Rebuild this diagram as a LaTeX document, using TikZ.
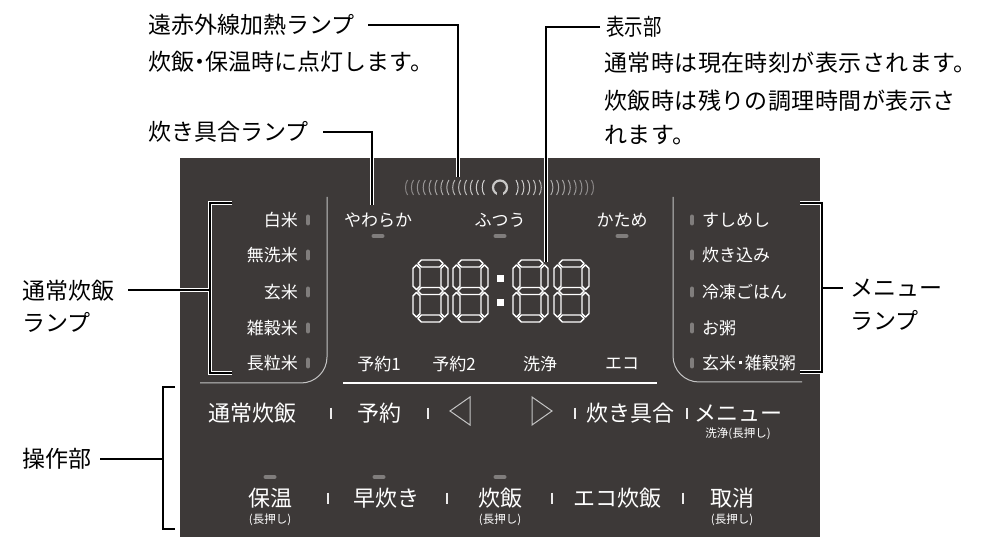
\documentclass[tikz,border=0pt]{standalone}
\usepackage{fontspec}
\setmainfont{Noto Sans CJK JP}
\definecolor{panel}{RGB}{61,57,56}
\definecolor{lamp}{RGB}{128,125,124}
\definecolor{framegray}{RGB}{196,196,196}
\newcommand\hsegm[3]{\draw[seg] (#1,#3) -- (#1+3.5,#3-3.5) -- (#2-3.5,#3-3.5) -- (#2,#3) -- (#2-3.5,#3+3.5) -- (#1+3.5,#3+3.5) -- cycle;}
\newcommand\vsegm[3]{\draw[seg] (#3,#1) -- (#3+3.5,#1+3.5) -- (#3+3.5,#2-3.5) -- (#3,#2) -- (#3-3.5,#2-3.5) -- (#3-3.5,#1+3.5) -- cycle;}
\newcommand\segdigit[2]{%
  \pgfmathsetmacro\sgXl{#1+3.5}\pgfmathsetmacro\sgXr{#1+35-3.5}%
  \pgfmathsetmacro\sgYt{#2+3.5}\pgfmathsetmacro\sgYm{#2+31}\pgfmathsetmacro\sgYb{#2+62-3.5}%
  \hsegm{\sgXl+1.4}{\sgXr-1.4}{\sgYt}
  \hsegm{\sgXl+1.4}{\sgXr-1.4}{\sgYm}
  \hsegm{\sgXl+1.4}{\sgXr-1.4}{\sgYb}
  \vsegm{\sgYt+1.4}{\sgYm-1.4}{\sgXl}
  \vsegm{\sgYm+1.4}{\sgYb-1.4}{\sgXl}
  \vsegm{\sgYt+1.4}{\sgYm-1.4}{\sgXr}
  \vsegm{\sgYm+1.4}{\sgYb-1.4}{\sgXr}
}
\newcommand\vpill[2]{\draw[lamp, line width=4pt, line cap=round] (#1,#2-3.5) -- (#1,#2+3.5);}
\newcommand\hpill[2]{\draw[lamp, line width=4pt, line cap=round] (#1-4.5,#2) -- (#1+4.5,#2);}
\newcommand\sepbar[2]{\draw[white!90!panel, line width=1.6pt] (#1,#2-5.5) -- (#1,#2+5.5);}
\newcommand\ndot{\kern-0.25em・\kern-0.25em}
\newcommand\sqdot{\hspace{2.5pt}\rule[0.3em]{3.6pt}{3.6pt}\hspace{2.5pt}}
\begin{document}
\begin{tikzpicture}[x=1pt,y=-1pt,
  lbl/.style={font=\fontsize{23}{27}\selectfont, inner sep=0, anchor=west},
  rdesc/.style={font=\fontsize{23}{27}\selectfont\addfontfeatures{LetterSpace=2}, inner sep=0, anchor=west},
  plbl/.style={font=\fontsize{17}{20}\selectfont, text=white, inner sep=0},
  ctl/.style={font=\fontsize{22}{26}\selectfont, text=white, inner sep=0},
  sublbl/.style={font=\fontsize{11.5}{14}\selectfont, text=white, inner sep=0},
  callout/.style={line width=1.8pt, black, preaction={draw=white, line width=4.6pt}},
  plainline/.style={line width=1.8pt, black},
  seg/.style={draw=white, line width=1.4pt, line join=round},
  frame/.style={draw=framegray, line width=1pt}]
\useasboundingbox (0,0) rectangle (983,537);
\fill[white] (0,0) rectangle (983,537);
% panel
\fill[panel] (180,158) rectangle (820,537);

% frames
\draw[frame, rounded corners=26pt] (327,197) -- (327,383) -- (200,383);
\draw[frame, rounded corners=26pt] (673,197) -- (673,382) -- (802,382);
\draw[white, line width=1.8pt] (343,383) -- (657,383);

% heating lamp arcs
\foreach \i in {0,...,13} {
  \pgfmathsetmacro\xx{405+\i*5.9}
  \pgfmathtruncatemacro\cc{38+\i*3}
  \draw[line width=1pt, color=white!\cc!panel] (\xx+2.6,180) .. controls (\xx-0.2,184) and (\xx-0.2,191) .. (\xx+2.6,195);
  \pgfmathsetmacro\xy{516+\i*5.8}
  \pgfmathtruncatemacro\cd{77-\i*3}
  \draw[line width=1pt, color=white!\cd!panel] (\xy,180) .. controls (\xy+2.8,184) and (\xy+2.8,191) .. (\xy,195);
}
\draw[line width=2.2pt, color=white!72!panel] (500,187.5) circle[radius=7pt];
\fill[panel] (497,192) rectangle (503,197);

% top lamp labels
\node[plbl] (yawa) at (378,220) {やわらか};
\node[plbl] (futsu) at (500,220) {ふつう};
\node[plbl] (katame) at (622,220) {かため};
\hpill{378}{236}\hpill{500}{236}\hpill{622}{236}

% display
\segdigit{413}{260}
\segdigit{453}{260}
\segdigit{513}{260}
\segdigit{554}{260}
\fill[white] (496.5,275.5) rectangle (503.5,282.5);
\fill[white] (496.5,299.5) rectangle (503.5,306.5);

% bottom display labels
\node[plbl] (yoy1) at (379,364) {予約1};
\node[plbl] (yoy2) at (454,364) {予約2};
\node[plbl] (senj) at (540,364) {洗浄};
\node[plbl] (eco) at (622,364) {エコ};

% left lamps
\node[plbl, anchor=east] (hak) at (298,220) {白米};
\node[plbl, anchor=east] (mus) at (298,255) {無洗米};
\node[plbl, anchor=east] (gen) at (298,292) {玄米};
\node[plbl, anchor=east] (zak) at (298,328) {雑穀米};
\node[plbl, anchor=east] (cho) at (298,363) {長粒米};
\foreach \y in {220,255,292,328,363} {\vpill{308}{\y}}

% right lamps
\node[plbl, anchor=west] (sus) at (702,220) {すしめし};
\node[plbl, anchor=west] (tak) at (702,255) {炊き込み};
\node[plbl, anchor=west] (rei) at (702,292) {冷凍ごはん};
\node[plbl, anchor=west] (oka) at (702,328) {お粥};
\node[plbl, anchor=west] (gzk) at (702,363) {玄米\sqdot 雑穀粥};
\foreach \y in {220,255,292,328,363} {\vpill{692}{\y}}

% control row 1
\node[ctl] (tsujo) at (252,413) {通常炊飯};
\sepbar{331}{413}
\node[ctl] (yoyaku) at (379,413) {予約};
\sepbar{428}{413}
\draw[framegray, line width=1pt, line join=miter] (470,397) -- (450,411) -- (470,425) -- cycle;
\draw[framegray, line width=1pt, line join=miter] (532,397) -- (552,411) -- (532,425) -- cycle;
\sepbar{575}{413}
\node[ctl] (kagenb) at (630,413) {炊き具合};
\sepbar{687}{413}
\node[ctl] (menu) at (738,413) {メニュー};
\node[sublbl] (menus) at (738,434) {洗浄(長押し)};

% control row 2
\hpill{270}{477}\hpill{379}{477}\hpill{500}{477}
\node[ctl] (hoon) at (270,498) {保温};
\node[sublbl] (hoons) at (270,520) {(長押し)};
\sepbar{328}{498}
\node[ctl] (haya) at (386,498) {早炊き};
\sepbar{447}{498}
\node[ctl] (suih) at (500,498) {炊飯};
\node[sublbl] (suihs) at (500,520) {(長押し)};
\sepbar{552}{498}
\node[ctl] (ecos) at (617,498) {エコ炊飯};
\sepbar{683}{498}
\node[ctl] (tori) at (732,498) {取消};
\node[sublbl] (toris) at (732,520) {(長押し)};

% outside labels
\node[lbl] (heat) at (148,25) {遠赤外線加熱ランプ};
\node[lbl] (heatd) at (148,62) {炊飯\ndot 保温時に点灯します。};
\node[lbl] (kagen) at (148,132) {炊き具合ランプ};
\node[lbl] (disp) at (606,27) {\scalebox{0.8}[1]{表示部}};
\node[rdesc] (dispd1) at (604,63) {通常時は現在時刻が表示されます。};
\node[rdesc] (dispd2) at (604,101) {炊飯時は残りの調理時間が表示さ};
\node[rdesc] (dispd3) at (604,135) {れます。};
\node[lbl] (nlamp1) at (22,291) {通常炊飯};
\node[lbl] (nlamp2) at (22,322) {ランプ};
\node[lbl] (mlamp1) at (850,288) {メニュー};
\node[lbl] (mlamp2) at (850,320) {ランプ};
\node[lbl] (sosa) at (22,459) {操作部};

% callouts
\coordinate (heatS) at (368,25);  \coordinate (heatE) at (458,177);
\coordinate (kagS) at (323,132);  \coordinate (kagE) at (372,205);
\coordinate (dispS) at (600,27);  \coordinate (dispE) at (546,262);
\draw[callout] (heatS) -| (heatE);
\draw[callout] (kagS) -| (kagE);
\draw[callout] (dispS) -| (dispE);
\coordinate (nS) at (128,290);
\draw[callout] (232,203) -- (210,203) -- (210,373) -- (232,373) (210,290) -- (nS);
\coordinate (mS) at (843,288);
\draw[callout] (800,203) -- (822,203) -- (822,372) -- (800,372) (822,288) -- (mS);
\coordinate (sS) at (100,459);
\draw[plainline] (175,387) -- (163,387) -- (163,529) -- (175,529) (163,459) -- (sS);
\end{tikzpicture}
\end{document}
